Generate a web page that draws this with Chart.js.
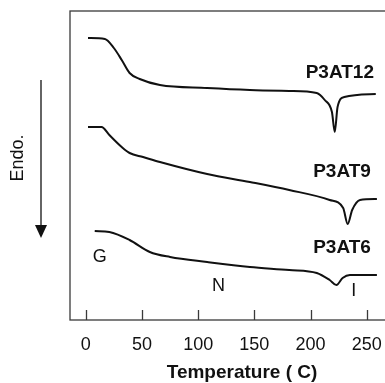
<!DOCTYPE html>
<html>
<head>
<meta charset="utf-8">
<script src="https://cdn.jsdelivr.net/npm/chart.js@4/dist/chart.umd.min.js"></script>
<style>
body { margin: 0; background: #fff; overflow: hidden; }
#wrap { width: 416px; height: 383px; }
</style>
</head>
<body>
<div id="wrap"><canvas id="dsc" width="416" height="383"></canvas></div>
<script>
// DSC heating traces (temperature in C, heat flow in arbitrary units, curves offset)
const tempTicks = [0, 50, 100, 150, 200, 250];

const p3at12T = [2, 17, 25, 32, 39, 48, 66, 108, 146, 181, 205.5, 212.6, 219, 221.5, 224, 230, 258];
const p3at12Y = [282, 281, 272, 260, 247, 241, 235, 232, 230, 229, 227, 220, 208, 188, 213, 223, 226];

const p3at9T = [2, 14, 21, 32, 39, 51, 66, 108, 146, 181, 217, 229, 233, 237, 244, 259];
const p3at9Y = [193, 193, 185, 173, 167, 163, 158, 146, 138, 130, 120, 112, 96, 110, 120, 121];

const p3at6T = [8, 21, 39, 57, 75, 108, 146, 181, 205.5, 217, 223, 228.5, 235, 259];
const p3at6Y = [89, 88, 80, 68, 63, 58, 53, 50, 47, 40, 35, 42, 45, 45];

// text placed on the plot, in data units
const notes = [
    { text: "P3AT12", t: 226, v: 247, bold: true },
    { text: "P3AT9", t: 228, v: 148, bold: true },
    { text: "P3AT6", t: 228, v: 72, bold: true },
    { text: "G", t: 12.5, v: 63, bold: false },
    { text: "N", t: 118, v: 34, bold: false },
    { text: "I", t: 238.5, v: 29, bold: false }
];

const FONT = "'Liberation Sans', Arial, sans-serif";

function toPoints(xs, ys) {
    return xs.map((t, i) => ({ x: t, y: ys[i] }));
}

function trace(xs, ys) {
    return {
        data: toPoints(xs, ys),
        borderColor: "#111",
        borderWidth: 2,
        pointRadius: 0,
        fill: false,
        cubicInterpolationMode: "monotone"
    };
}

const decor = {
    id: "decor",
    afterDraw(chart) {
        const { ctx, chartArea: a, scales: { x, y } } = chart;
        ctx.save();

        // frame
        ctx.strokeStyle = "#3a3a3a";
        ctx.lineWidth = 1.3;
        ctx.strokeRect(a.left, a.top, a.right - a.left, a.bottom - a.top);

        // ticks pointing inside
        tempTicks.forEach(t => {
            const px = Math.round(x.getPixelForValue(t)) + 0.5;
            ctx.beginPath();
            ctx.moveTo(px, a.bottom);
            ctx.lineTo(px, a.bottom - 10);
            ctx.stroke();
        });

        // notes
        ctx.fillStyle = "#111";
        ctx.textAlign = "center";
        ctx.textBaseline = "middle";
        notes.forEach(n => {
            ctx.font = (n.bold ? "bold 19px " : "18px ") + FONT;
            ctx.fillText(n.text, x.getPixelForValue(n.t), y.getPixelForValue(n.v));
        });

        // "Endo." with arrow down
        ctx.save();
        ctx.translate(18, 158);
        ctx.rotate(-Math.PI / 2);
        ctx.font = "18px " + FONT;
        ctx.fillText("Endo.", 0, 0);
        ctx.restore();

        ctx.strokeStyle = "#111";
        ctx.lineWidth = 1.3;
        ctx.beginPath();
        ctx.moveTo(41, 80);
        ctx.lineTo(41, 228);
        ctx.stroke();
        ctx.beginPath();
        ctx.moveTo(35, 225);
        ctx.lineTo(47, 225);
        ctx.lineTo(41, 238);
        ctx.closePath();
        ctx.fill();

        ctx.restore();
    }
};

new Chart(document.getElementById("dsc"), {
    type: "line",
    data: {
        datasets: [
            trace(p3at12T, p3at12Y),
            trace(p3at9T, p3at9Y),
            trace(p3at6T, p3at6Y)
        ]
    },
    options: {
        responsive: false,
        animation: false,
        layout: { padding: { left: 70, top: 11, right: 2, bottom: 0 } },
        plugins: { legend: { display: false }, tooltip: { enabled: false } },
        scales: {
            x: {
                type: "linear",
                min: -14,
                max: 292,
                afterBuildTicks: s => { s.ticks = tempTicks.map(v => ({ value: v })); },
                afterFit: s => { s.height = 63; },
                grid: { display: false, drawTicks: false },
                border: { display: false },
                ticks: {
                    padding: 14,
                    color: "#111",
                    font: { family: FONT, size: 18 }
                },
                title: {
                    display: true,
                    text: "Temperature ( C)",
                    color: "#111",
                    font: { family: FONT, size: 19, weight: "bold", lineHeight: 1 },
                    padding: { top: 0, bottom: 1 }
                }
            },
            y: {
                display: false,
                min: 0,
                max: 309
            }
        }
    },
    plugins: [decor]
});
</script>
</body>
</html>
